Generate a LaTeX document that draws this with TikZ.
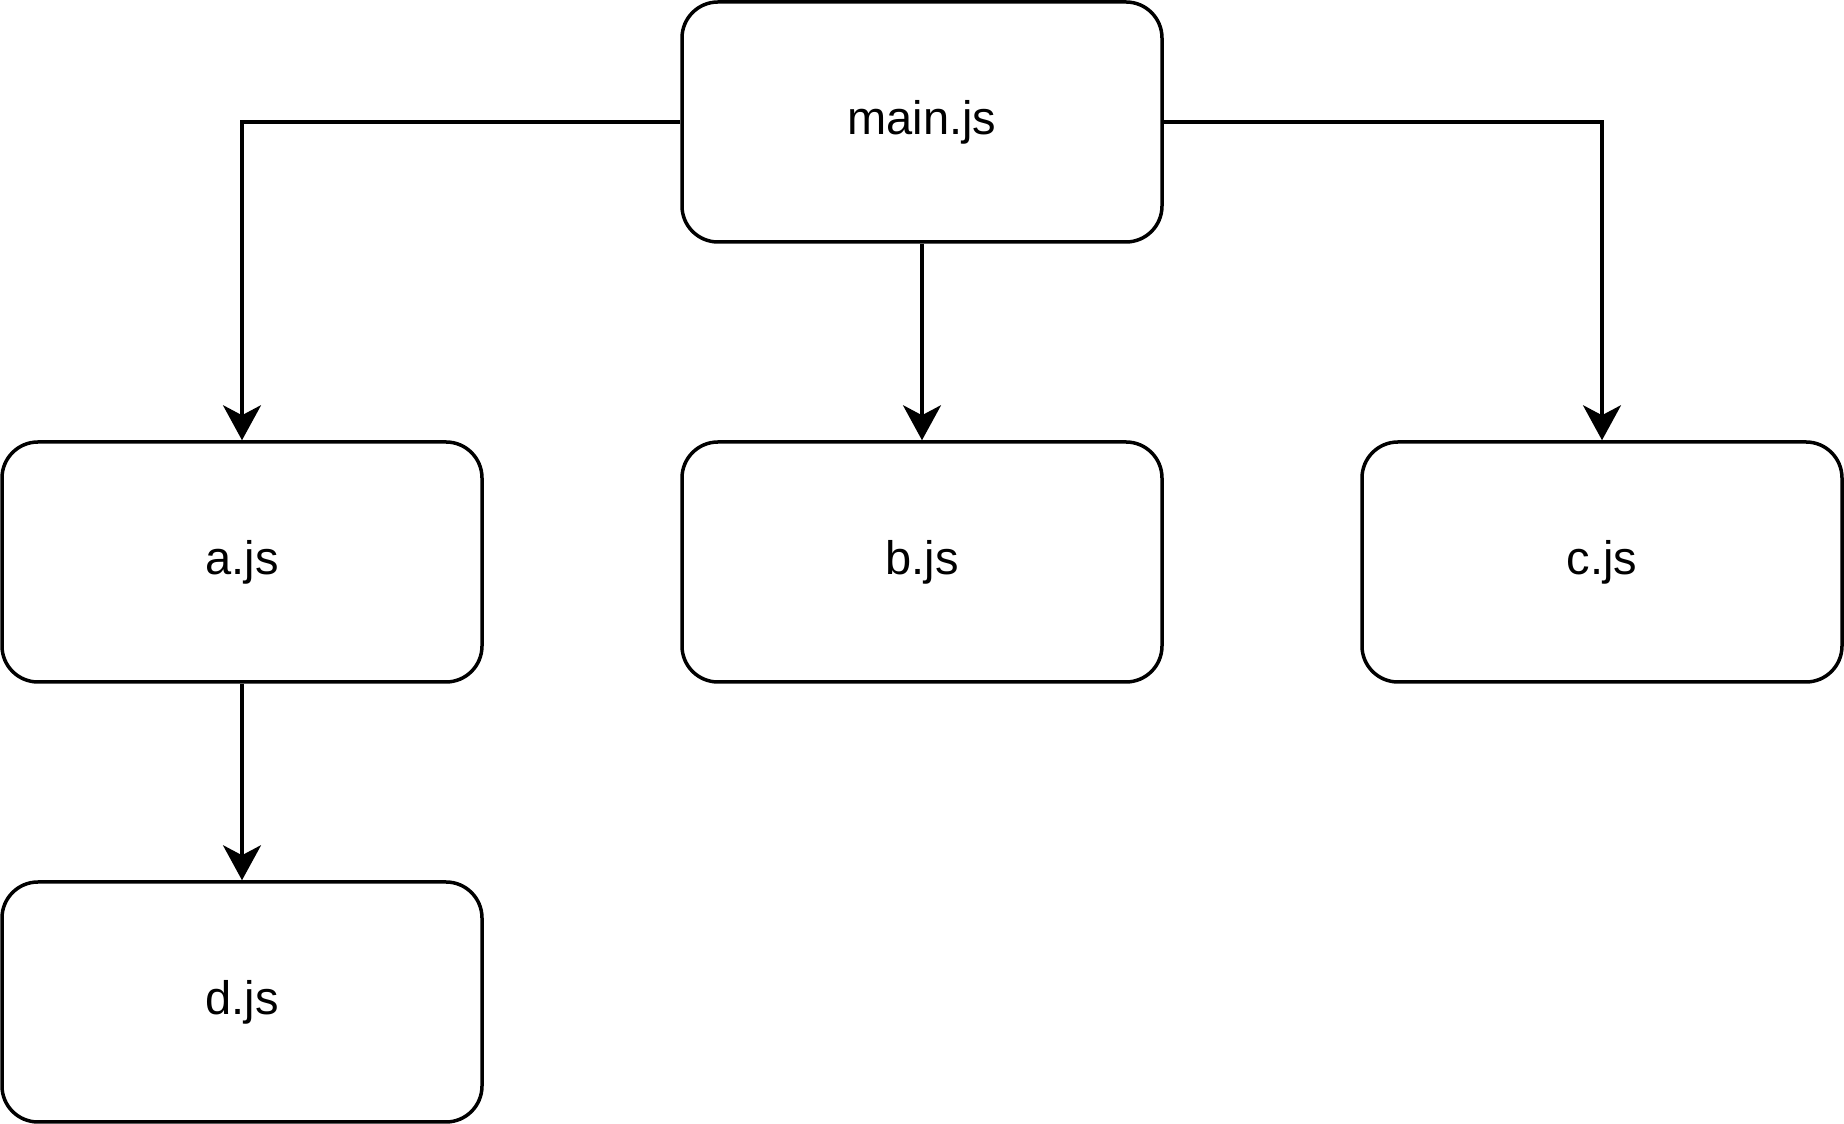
\documentclass[tikz,border=0pt]{standalone}
\usepackage{fontspec}
\setmainfont{Liberation Sans}
\usetikzlibrary{arrows.meta}

\begin{document}
\begin{tikzpicture}[x=0.5pt,y=0.5pt]
        \tikzset{
        js node/.style={rectangle,draw,rounded corners=18pt,line width=1.75pt,minimum width=240pt,minimum height=120pt,inner sep=0,font=\fontsize{23.5}{28}\selectfont},
        js edge/.style={line width=1.75pt,-{Stealth[length=17.5pt,width=19pt,inset=5pt]}}
        }
        \useasboundingbox (0,0) rectangle (1844,1124);
        \node[js node] (main) at (922, 1002) {main.js};
        \node[js node] (a) at (242, 562) {a.js};
        \node[js node] (b) at (922, 562) {b.js};
        \node[js node] (c) at (1602, 562) {c.js};
        \node[js node] (d) at (242, 122) {d.js};

        \draw[js edge] (main.west) -| (a.north);
        \draw[js edge] (main.south) -- (b.north);
        \draw[js edge] (main.east) -| (c.north);
        \draw[js edge] (a.south) -- (d.north);
    \end{tikzpicture}
\end{document}
